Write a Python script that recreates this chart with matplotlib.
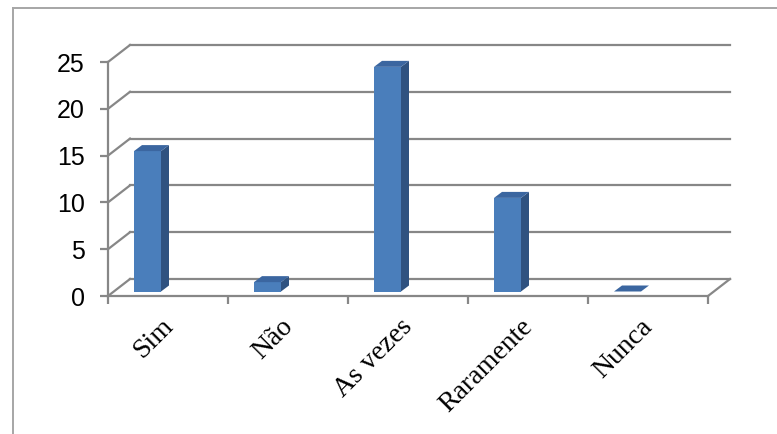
import matplotlib
matplotlib.use("Agg")
import matplotlib.pyplot as plt
from matplotlib.patches import Polygon
from matplotlib.lines import Line2D
from matplotlib.transforms import ScaledTranslation

# ----------------- Données ----------------- #
categories = ["Sim", "Não", "As vezes", "Raramente", "Nunca"]
values = [15, 1, 24, 10, 0]
yticks = [0, 5, 10, 15, 20, 25]

# ----------------- Style ----------------- #
W, H, DPI = 777, 434, 100
grid_col = "#878787"
front_col = "#4A7EBB"
side_col = "#2F5280"
top_col = "#3B66A0"

fig = plt.figure(figsize=(W / DPI, H / DPI), dpi=DPI)

# front plane of the pseudo-3D box, in pixels
ax_l, ax_r = 108, 708
ax_top, ax_bot = 62, 296
ax = fig.add_axes([ax_l / W, (H - ax_bot) / H, (ax_r - ax_l) / W, (ax_bot - ax_top) / H])
ax.set_xlim(-0.5, len(categories) - 0.5)
ax.set_ylim(0, 25)

# pixel -> data conversion
ux = (len(categories)) / (ax_r - ax_l)
uy = 25 / (ax_bot - ax_top)

# wall depth (px) and bar depth (px)
wall_dx, wall_dy = 22 * ux, 17 * uy
bar_dx, bar_dy = 8 * ux, 6 * uy
bar_lift = 4.5 * uy
bar_w = 27 * ux
bar_shift = -0.5 + 26 * ux

x0, x1 = -0.5, len(categories) - 0.5

# back wall gridlines + left wall diagonals
for v in yticks:
    ax.add_line(Line2D([x0, x0 + wall_dx], [v, v + wall_dy], color=grid_col, lw=1.6, clip_on=False))
    ax.add_line(Line2D([x0 + wall_dx, x1 + wall_dx], [v + wall_dy, v + wall_dy],
                       color=grid_col, lw=1.6, clip_on=False))
# floor right edge
ax.add_line(Line2D([x1, x1 + wall_dx], [0, wall_dy], color=grid_col, lw=1.6, clip_on=False))

# bars
for i, v in enumerate(values):
    bl = i + bar_shift
    br = bl + bar_w
    yb = bar_lift
    yt = bar_lift + v
    if v > 0:
        ax.add_patch(Polygon([(br, yb), (br + bar_dx, yb + bar_dy), (br + bar_dx, yt + bar_dy), (br, yt)],
                             closed=True, fc=side_col, ec="none", clip_on=False, zorder=3))
        ax.add_patch(Polygon([(bl, yb), (br, yb), (br, yt), (bl, yt)],
                             closed=True, fc=front_col, ec="none", clip_on=False, zorder=3))
    ax.add_patch(Polygon([(bl, yt), (br, yt), (br + bar_dx, yt + bar_dy), (bl + bar_dx, yt + bar_dy)],
                         closed=True, fc=top_col, ec="none", clip_on=False, zorder=3))

# axes
for s in ["top", "right"]:
    ax.spines[s].set_visible(False)
for s in ["left", "bottom"]:
    ax.spines[s].set_color(grid_col)
    ax.spines[s].set_linewidth(1.6)
ax.set_facecolor("none")

ax.set_yticks(yticks)
ax.set_yticklabels([str(t) for t in yticks], fontsize=18, family="Liberation Sans")
ax.tick_params(axis="y", length=5.8, width=1.6, color=grid_col, pad=11)

ax.set_xticks([x0 + k for k in range(len(categories) + 1)])
ax.set_xticklabels([])
ax.tick_params(axis="x", which="major", length=5.5, width=1.6, color=grid_col)
ax.set_xticks(range(len(categories)), minor=True)
ax.set_xticklabels(categories, minor=True, rotation=45, ha="right", va="top",
                   fontsize=20, family="Liberation Serif")
ax.tick_params(axis="x", which="minor", length=0, pad=13)
shift = ScaledTranslation(10 / DPI, 0, fig.dpi_scale_trans)
for lab in ax.get_xticklabels(minor=True):
    lab.set_transform(lab.get_transform() + shift)

# outer chart border (left and top visible)
fig.add_artist(Line2D([13 / W, 13 / W], [0, 1 - 8 / H], color="#A6A6A6", lw=1.4))
fig.add_artist(Line2D([13 / W, 1], [1 - 8 / H, 1 - 8 / H], color="#A6A6A6", lw=1.4))

fig.savefig("out.png", dpi=DPI)
